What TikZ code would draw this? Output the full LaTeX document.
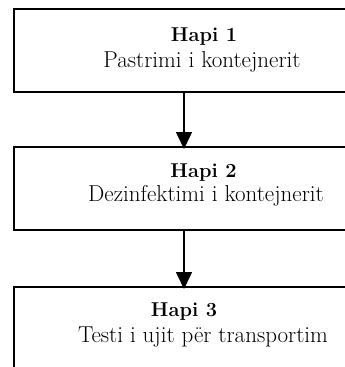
\documentclass[tikz,border=0pt]{standalone}
\usetikzlibrary{arrows.meta}
\begin{document}
\begin{tikzpicture}[x=1pt,y=-1pt,
  stepbox/.style={draw=black,line width=1.8pt,minimum width=340pt,minimum height=83pt,inner sep=0pt,outer sep=0pt},
  headtxt/.style={anchor=base,inner sep=0pt,font=\fontsize{20}{24}\selectfont\bfseries},
  bodytxt/.style={anchor=base,inner sep=0pt,font=\fontsize{23}{27}\selectfont},
  flow/.style={line width=1.6pt,-{Triangle[width=16pt,length=17pt]}}]
\clip (0,0) rectangle (345,367);
\fill[white] (0,0) rectangle (345,367);
\node[stepbox] (b1) at (184,50.5) {};
\node[stepbox] (b2) at (184,188.5) {};
\node[stepbox] (b3) at (184,328.5) {};
\node[headtxt] (h1) at (204,41) {Hapi 1};
\node[bodytxt] (s1) at (202,67) {Pastrimi i kontejnerit};
\node[headtxt] (h2) at (203.5,177) {Hapi 2};
\node[bodytxt] (s2) at (206,201) {Dezinfektimi i kontejnerit};
\node[headtxt] (h3) at (184,316) {Hapi 3};
\node[bodytxt] (s3) at (203,342) {Testi i ujit për transportim};
\coordinate (e1) at ([yshift=-2pt]b2.north);
\coordinate (e2) at ([yshift=-2pt]b3.north);
\draw[flow] (b1.south) -- (e1);
\draw[flow] (b2.south) -- (e2);
\end{tikzpicture}
\end{document}
